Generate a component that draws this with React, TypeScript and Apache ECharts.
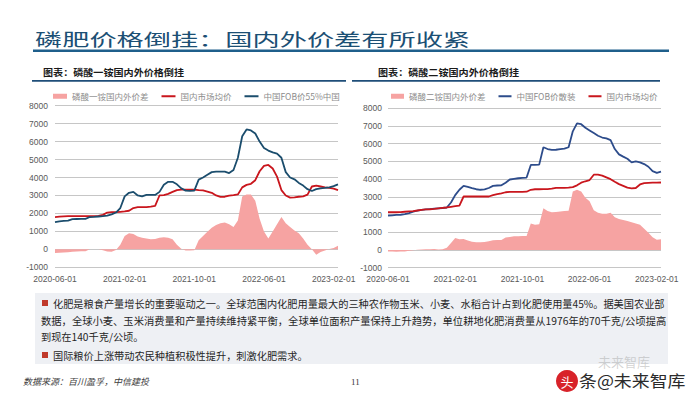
import React, { useEffect, useRef } from "react";
import * as echarts from "echarts";

const dates = [
  "2020-06-01","2020-06-16","2020-07-01","2020-07-16","2020-08-01","2020-08-16","2020-09-01","2020-09-16",
  "2020-10-01","2020-10-16","2020-11-01","2020-11-16","2020-12-01","2020-12-16",
  "2021-01-01","2021-01-16","2021-02-01","2021-02-16","2021-03-01","2021-03-16","2021-04-01","2021-04-16",
  "2021-05-01","2021-05-16","2021-06-01","2021-06-16","2021-07-01","2021-07-16","2021-08-01","2021-08-16",
  "2021-09-01","2021-09-16","2021-10-01","2021-10-16","2021-11-01","2021-11-16","2021-12-01","2021-12-16",
  "2022-01-01","2022-01-16","2022-02-01","2022-02-16","2022-03-01","2022-03-16","2022-04-01","2022-04-16",
  "2022-05-01","2022-05-16","2022-06-01","2022-06-16","2022-07-01","2022-07-16","2022-08-01","2022-08-16",
  "2022-09-01","2022-09-16","2022-10-01","2022-10-16","2022-11-01","2022-11-16","2022-12-01","2022-12-16",
  "2023-01-01","2023-01-16","2023-02-01","2023-02-16"
];

const xTickLabels = ["2020-06-01", "2021-02-01", "2021-10-01", "2022-06-01", "2023-02-01"];

// 磷酸一铵 (left chart)
const leftNames = ["磷酸一铵国内外价差", "国内市场均价", "中国FOB价55%中国"];
const leftGap = [
  -200,-190,-170,-160,-130,-120,-110,-110,0,0,0,-50,-120,-140,-30,250,
  750,900,850,720,650,600,560,580,650,680,640,560,250,30,-60,-70,
  -50,500,750,980,1200,1350,1450,1500,1400,1250,1600,2950,3050,3050,2700,1700,
  1000,600,1000,1400,1800,1450,1250,1050,900,600,250,0,-300,-150,-60,20,
  80,200
];
const leftDomestic = [
  1800,1820,1840,1850,1850,1850,1850,1850,1850,1850,1860,1920,2050,2070,2070,2090,
  2110,2150,2300,2350,2350,2350,2380,2420,3000,3020,3090,3200,3300,3330,3330,3330,
  3330,3300,3280,3220,3150,3000,2920,2930,2990,3020,3060,3450,3590,3650,3850,4350,
  4650,4700,4500,4050,3300,3000,2880,2900,2930,2950,3050,3500,3550,3500,3450,3420,
  3380,3300
];
const leftFob = [
  1520,1560,1580,1600,1680,1690,1700,1700,1800,1810,1830,1850,1880,1950,2050,2300,
  2950,3150,3200,3000,2950,3030,3030,3030,3200,3600,3760,3760,3620,3400,3270,3260,
  3270,3880,4000,4150,4300,4330,4330,4330,4250,4420,5100,6300,6680,6620,6450,6000,
  5650,5500,5400,5330,5100,4300,4000,3900,3700,3550,3350,3250,3350,3400,3420,3450,
  3520,3620
];

// 磷酸二铵 (right chart)
const rightNames = ["磷酸二铵国内外价差", "中国FOB价散装", "国内市场均价"];
const rightGap = [
  -90,-90,-95,-90,-80,-50,-20,20,30,40,40,50,30,40,120,400,
  680,600,620,530,470,440,430,450,500,550,560,560,700,740,770,780,
  790,790,1500,1420,1450,2350,2200,2130,2150,2180,2200,2220,3300,3400,3300,2950,
  2750,2250,2100,2050,2050,2100,1850,1750,1700,1640,1560,1500,1420,1200,980,720,
  580,600
];
const rightFob = [
  1940,1960,1980,1990,2030,2080,2170,2220,2260,2290,2310,2330,2350,2370,2400,2680,
  3100,3400,3620,3560,3490,3430,3400,3420,3500,3620,3640,3650,3800,3980,4020,4050,
  4070,4090,4800,4810,4820,5800,5700,5650,5660,5700,5720,5800,6700,7150,7100,6900,
  6750,6600,6450,6350,6300,6200,5700,5400,5270,5150,4950,5000,4950,4850,4700,4450,
  4350,4420
];
const rightDomestic = [
  2130,2130,2130,2140,2160,2180,2200,2230,2260,2290,2300,2320,2350,2380,2400,2440,
  2480,2510,3020,3020,3020,3020,3020,3020,3020,3100,3150,3200,3260,3280,3280,3280,
  3280,3290,3400,3430,3430,3440,3440,3460,3510,3510,3510,3520,3550,3650,3800,3880,
  3950,4250,4250,4200,4100,4000,3850,3720,3620,3520,3480,3500,3700,3780,3790,3800,
  3800,3810
];

const yMin = -1000;
const yMax = 8000;
const yStep = 1000;

const titleText = "磷肥价格倒挂：国内外价差有所收紧";
const leftHeader = "图表：磷酸一铵国内外价格倒挂";
const rightHeader = "图表：磷酸二铵国内外价格倒挂";
const bodyLines = [
  "化肥是粮食产量增长的重要驱动之一。全球范围内化肥用量最大的三种农作物玉米、小麦、水稻合计占到化肥使用量45%。据美国农业部",
  "数据，全球小麦、玉米消费量和产量持续维持紧平衡，全球单位面积产量保持上升趋势，单位耕地化肥消费量从1976年的70千克/公顷提高",
  "到现在140千克/公顷。",
  "国际粮价上涨带动农民种植积极性提升，刺激化肥需求。"
];
const sourceText = "数据来源：百川盈孚，中信建投";
const pageNo = "11";

const FONT = '"Noto Sans CJK SC", "Noto Sans", sans-serif';
const NUM_FONT = '"Liberation Sans", Arial, "Noto Sans CJK SC", sans-serif';

const PINK = "#f6a3a2";
const RED = "#c9161d";
const TEAL = "#1b4d6d";
const NAVY = "#2d4c8b";

export default function App() {
  const ref = useRef<HTMLDivElement>(null);

  useEffect(() => {
    if (!ref.current) return;
    const chart = echarts.init(ref.current, null, { renderer: "svg" });

    const xAxisBase = (gridIndex: number, margin: number) => ({
      gridIndex,
      type: "category" as const,
      data: dates,
      boundaryGap: false,
      axisLine: { show: false, onZero: false },
      axisTick: { show: false },
      splitLine: { show: false },
      axisLabel: {
        interval: (_i: number, v: string) => xTickLabels.includes(v),
        color: "#595959",
        fontSize: 8.5,
        fontFamily: NUM_FONT,
        margin,
      },
    });
    const yAxisBase = (gridIndex: number, margin: number) => ({
      gridIndex,
      type: "value" as const,
      min: yMin,
      max: yMax,
      interval: yStep,
      axisLine: { show: false },
      axisTick: { show: false },
      axisLabel: {
        color: "#595959",
        fontSize: 8.5,
        fontFamily: NUM_FONT,
        margin,
        formatter: (v: number) => String(v),
      },
      splitLine: { lineStyle: { color: "#c6c6c6", width: 1 } },
    });

    const area = (name: string, data: number[], idx: number) => ({
      name,
      type: "line" as const,
      xAxisIndex: idx,
      yAxisIndex: idx,
      data,
      color: PINK,
      symbol: "none",
      lineStyle: { width: 0 },
      areaStyle: { color: PINK, opacity: 1 },
      z: 1,
    });
    const line = (name: string, data: number[], idx: number, color: string) => ({
      name,
      type: "line" as const,
      xAxisIndex: idx,
      yAxisIndex: idx,
      data,
      color,
      symbol: "none",
      lineStyle: { width: 1.8, color },
      z: 3,
    });

    const legendText = { fontSize: 8.5, color: "#8c8c8c", fontFamily: FONT };
    const lineItem = (name: string) => ({ name, itemStyle: { opacity: 0 } });

    chart.setOption({
      animation: false,
      backgroundColor: "#ffffff",
      grid: [
        { left: 55, top: 105.7, width: 283, height: 161.6 },
        { left: 388, top: 108.3, width: 273, height: 159.4 },
      ],
      xAxis: [xAxisBase(0, 7), xAxisBase(1, 7)],
      yAxis: [yAxisBase(0, 7), yAxisBase(1, 6)],
      legend: [
        {
          left: 53,
          top: 92,
          padding: 0,
          itemWidth: 14,
          itemHeight: 5,
          itemGap: 12,
          textStyle: legendText,
          data: [{ name: leftNames[0], icon: "rect" }, lineItem(leftNames[1]), lineItem(leftNames[2])],
        },
        {
          left: 391,
          top: 92,
          padding: 0,
          itemWidth: 13,
          itemHeight: 5,
          itemGap: 12,
          textStyle: legendText,
          data: [{ name: rightNames[0], icon: "rect" }, lineItem(rightNames[1]), lineItem(rightNames[2])],
        },
      ],
      series: [
        area(leftNames[0], leftGap, 0),
        line(leftNames[1], leftDomestic, 0, RED),
        line(leftNames[2], leftFob, 0, TEAL),
        area(rightNames[0], rightGap, 1),
        line(rightNames[1], rightFob, 1, NAVY),
        line(rightNames[2], rightDomestic, 1, RED),
      ],
      graphic: [
        {
          type: "text",
          x: 35,
          y: 39,
          scaleX: 1.6,
          style: { text: titleText, fontSize: 17, fill: "#1b4f74", fontFamily: FONT, verticalAlign: "middle" },
        },
        { type: "rect", shape: { x: 33, y: 49.5, width: 636, height: 2.6 }, style: { fill: "#1f5f8b" } },
        {
          type: "text",
          x: 43,
          y: 72,
          scaleX: 1.12,
          style: { text: leftHeader, fontSize: 9, fontWeight: "bold", fill: "#1a1a1a", fontFamily: FONT, verticalAlign: "middle" },
        },
        {
          type: "text",
          x: 378,
          y: 72,
          scaleX: 1.12,
          style: { text: rightHeader, fontSize: 9, fontWeight: "bold", fill: "#1a1a1a", fontFamily: FONT, verticalAlign: "middle" },
        },
        { type: "rect", shape: { x: 32, y: 80, width: 314, height: 1.8 }, style: { fill: "#1f4e79" } },
        { type: "rect", shape: { x: 352, y: 80, width: 308, height: 1.8 }, style: { fill: "#1f4e79" } },
        { type: "rect", shape: { x: 35, y: 293, width: 633, height: 71 }, style: { fill: "#eef0f4" } },
        { type: "rect", shape: { x: 42, y: 300, width: 6, height: 6 }, style: { fill: "#c0392b" } },
        { type: "rect", shape: { x: 42, y: 352, width: 6, height: 6 }, style: { fill: "#c0392b" } },
        {
          type: "text", x: 53, y: 303.5,
          style: { text: bodyLines[0], fontSize: 10.2, fill: "#262626", fontFamily: FONT, verticalAlign: "middle" },
        },
        {
          type: "text", x: 41, y: 320,
          style: { text: bodyLines[1], fontSize: 10.3, fill: "#262626", fontFamily: FONT, verticalAlign: "middle" },
        },
        {
          type: "text", x: 41, y: 336,
          style: { text: bodyLines[2], fontSize: 10.2, fill: "#262626", fontFamily: FONT, verticalAlign: "middle" },
        },
        {
          type: "text", x: 53, y: 355,
          style: { text: bodyLines[3], fontSize: 10.2, fill: "#262626", fontFamily: FONT, verticalAlign: "middle" },
        },
        {
          type: "text", x: 23, y: 381,
          style: { text: sourceText, fontSize: 9, fontStyle: "italic", fill: "#404040", fontFamily: FONT, verticalAlign: "middle" },
        },
        {
          type: "text", x: 351, y: 382,
          style: { text: pageNo, fontSize: 9, fill: "#333333", fontFamily: '"Liberation Serif", serif', verticalAlign: "middle" },
        },
        {
          type: "text", x: 598, y: 361,
          style: { text: "未来智库", fontSize: 13, fill: "rgba(160,160,160,0.45)", fontFamily: FONT, verticalAlign: "middle" },
        },
        { type: "circle", shape: { cx: 567, cy: 381, r: 11 }, style: { fill: "#d8232a" } },
        {
          type: "text", x: 567, y: 381,
          style: { text: "头", fontSize: 13, fill: "#ffffff", fontFamily: FONT, align: "center", verticalAlign: "middle" },
        },
        {
          type: "text", x: 579, y: 380,
          scaleX: 1.12,
          style: { text: "条@未来智库", fontSize: 16, fill: "#2b2b2b", fontFamily: FONT, verticalAlign: "middle", stroke: "#ffffff", lineWidth: 1 },
        },
      ],
    });

    return () => chart.dispose();
  }, []);

  return (
    <div
      ref={ref}
      style={{ position: "absolute", left: 0, top: 0, width: 700, height: 394, background: "#ffffff" }}
    />
  );
}
